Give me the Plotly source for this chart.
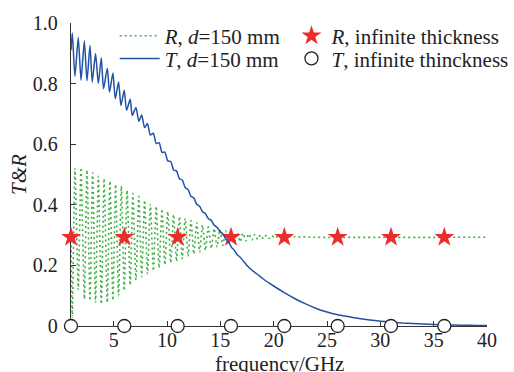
import plotly.graph_objects as go

# Slab of thickness d = 150 mm: transmission T and reflection R versus frequency (GHz).
# Oscillating part is listed extremum by extremum, then the smooth tail.
t_freq = [1.00, 1.12, 1.37, 1.68, 1.94, 2.25, 2.50, 2.78, 2.99, 3.30,
          3.56, 3.84, 4.05, 4.40, 4.61, 4.93, 5.15, 5.46, 5.68, 5.99,
          6.21, 6.55, 6.74, 7.09, 7.36, 7.63, 7.90, 8.17, 8.44, 8.72,
          8.99, 9.26, 9.53, 9.80, 10.07, 10.35, 10.62, 10.89, 11.16, 11.43,
          11.70, 11.98, 12.25, 12.52, 12.79, 13.06, 13.33, 13.60, 13.87, 14.15,
          14.42, 14.69, 14.96, 15.23, 15.50, 15.78, 16.05, 16.32, 16.59, 16.86,
          17.5, 18.0, 18.5, 19.0, 20.0, 21.0, 22.0, 23.0, 24.0, 25.0,
          26.0, 27.0, 28.0, 29.0, 30.0, 31.0, 32.0, 33.0, 34.0, 35.0,
          36.0, 37.0, 38.0, 39.0, 40.0]
t_val = [0.910, 0.967, 0.824, 0.952, 0.811, 0.941, 0.809, 0.926, 0.805, 0.899,
         0.800, 0.885, 0.783, 0.851, 0.772, 0.835, 0.750, 0.805, 0.728, 0.778,
         0.712, 0.748, 0.695, 0.721, 0.676, 0.696, 0.655, 0.668, 0.630, 0.636,
         0.602, 0.605, 0.573, 0.574, 0.545, 0.543, 0.515, 0.512, 0.486, 0.482,
         0.457, 0.450, 0.428, 0.4225, 0.4015, 0.395, 0.377, 0.371, 0.3545, 0.3485,
         0.3325, 0.326, 0.312, 0.304, 0.288, 0.2765, 0.2595, 0.2495, 0.235, 0.227,
         0.200, 0.183, 0.170, 0.156, 0.132, 0.110, 0.090, 0.073, 0.058, 0.046,
         0.037, 0.031, 0.025, 0.020, 0.016, 0.013, 0.010, 0.008, 0.0065, 0.005,
         0.004, 0.003, 0.0025, 0.002, 0.0015]

r_freq = [1.00, 1.12, 1.37, 1.68, 1.94, 2.25, 2.50, 2.78, 3.03, 3.30,
          3.56, 3.84, 4.10, 4.40, 4.65, 4.93, 5.18, 5.46, 5.72, 5.99,
          6.26, 6.55, 6.80, 7.09, 7.36, 7.63, 7.90, 8.17, 8.44, 8.72,
          8.99, 9.26, 9.53, 9.80, 10.07, 10.35, 10.62, 10.89, 11.16, 11.43,
          11.70, 11.98, 12.25, 12.52, 12.79, 13.06, 13.33, 13.60, 13.87, 14.15,
          14.42, 14.69, 14.96, 15.23, 15.50, 15.78, 16.05, 16.32, 16.59, 16.86,
          17.13, 17.40, 17.67, 17.95, 18.22, 18.50, 18.76, 19.04, 19.30, 19.58,
          19.85, 20.12, 20.39, 20.66, 20.93, 21.20, 21.48, 21.75, 22.02, 22.30,
          22.57, 23.5, 40.0]
r_val = [0.300, 0.030, 0.520, 0.120, 0.522, 0.090, 0.514, 0.084, 0.505, 0.078,
         0.494, 0.073, 0.486, 0.078, 0.478, 0.085, 0.467, 0.100, 0.461, 0.117,
         0.448, 0.135, 0.437, 0.152, 0.428, 0.162, 0.415, 0.172, 0.402, 0.182,
         0.395, 0.192, 0.386, 0.202, 0.378, 0.208, 0.368, 0.214, 0.361, 0.222,
         0.355, 0.230, 0.348, 0.238, 0.341, 0.244, 0.333, 0.250, 0.327, 0.256,
         0.322, 0.261, 0.318, 0.266, 0.314, 0.270, 0.311, 0.274, 0.308, 0.278,
         0.306, 0.281, 0.304, 0.284, 0.302, 0.286, 0.3005, 0.288, 0.299, 0.289,
         0.298, 0.290, 0.297, 0.291, 0.2965, 0.2915, 0.296, 0.292, 0.2955, 0.2925,
         0.295, 0.293, 0.293]

# Infinite-thickness reference values
inf_freq = [1, 6, 11, 16, 21, 26, 31, 36]
r_inf = [0.293, 0.293, 0.293, 0.293, 0.293, 0.293, 0.293, 0.293]
t_inf = [0, 0, 0, 0, 0, 0, 0, 0]

x_ticks = [5, 10, 15, 20, 25, 30, 35, 40]
y_ticks = [0, 0.2, 0.4, 0.6, 0.8, 1.0]
y_tick_text = ["0", "0.2", "0.4", "0.6", "0.8", "1.0"]

GREEN = "#3fb043"
BLUE = "#2152a3"
RED = "#ee2b2b"
INK = "#222222"
FONT = "Liberation Serif, Times New Roman, serif"

fig = go.Figure()
fig.add_trace(go.Scatter(
    x=r_freq, y=r_val, mode="lines", name="<i>R</i>, <i>d</i>=150 mm",
    line=dict(color=GREEN, width=1.6, dash="2px,3px", shape="spline", smoothing=0.6),
    legend="legend"))
fig.add_trace(go.Scatter(
    x=inf_freq, y=r_inf, mode="markers", name="<i>R</i>, infinite thickness",
    marker=dict(symbol="star", size=15, color=RED, line=dict(width=0)),
    cliponaxis=False, legend="legend2"))
fig.add_trace(go.Scatter(
    x=t_freq, y=t_val, mode="lines", name="<i>T</i>, <i>d</i>=150 mm",
    line=dict(color=BLUE, width=1.5, shape="spline", smoothing=0.6),
    legend="legend3"))
fig.add_trace(go.Scatter(
    x=inf_freq, y=t_inf, mode="markers", name="<i>T</i>, infinite thinckness",
    marker=dict(symbol="circle", size=13, color="white", line=dict(color=INK, width=1.3)),
    cliponaxis=False, legend="legend4"))


def legend_slot(x, y, itemwidth):
    return dict(x=x, y=y, xanchor="left", yanchor="middle", bgcolor="rgba(0,0,0,0)",
                borderwidth=0, itemwidth=itemwidth, visible=True,
                font=dict(family=FONT, size=21, color=INK))


axis_common = dict(showline=True, linecolor="#333333", linewidth=1.4, ticks="inside",
                   ticklen=5, tickwidth=1.4, tickcolor="#333333", showgrid=False,
                   zeroline=False, layer="below traces",
                   tickfont=dict(family=FONT, size=20, color=INK))

fig.update_layout(
    template="none",
    width=514, height=372,
    margin=dict(l=71, r=27, t=23, b=46, autoexpand=False),
    paper_bgcolor="white", plot_bgcolor="white",
    font=dict(family=FONT, size=20, color=INK),
    showlegend=True,
    xaxis=dict(range=[1, 40], tickvals=x_ticks, ticklabelstandoff=-4, **axis_common),
    yaxis=dict(range=[0, 1.0], tickvals=y_ticks, ticktext=y_tick_text,
               title=dict(text="<i>T&amp;R</i>", standoff=0, font=dict(family=FONT, size=21, color=INK)),
               ticklabelstandoff=8, **axis_common),
    legend=legend_slot(0.105, 0.957, 40),
    legend2=legend_slot(0.530, 0.957, 30),
    legend3=legend_slot(0.105, 0.882, 40),
    legend4=legend_slot(0.530, 0.882, 30),
    annotations=[dict(text="frequency/GHz", x=0.5, xref="paper", y=0, yref="paper",
                      xanchor="center", yanchor="top", yshift=-24, showarrow=False,
                      font=dict(family=FONT, size=21, color=INK))],
)

fig.write_html("out.html")
